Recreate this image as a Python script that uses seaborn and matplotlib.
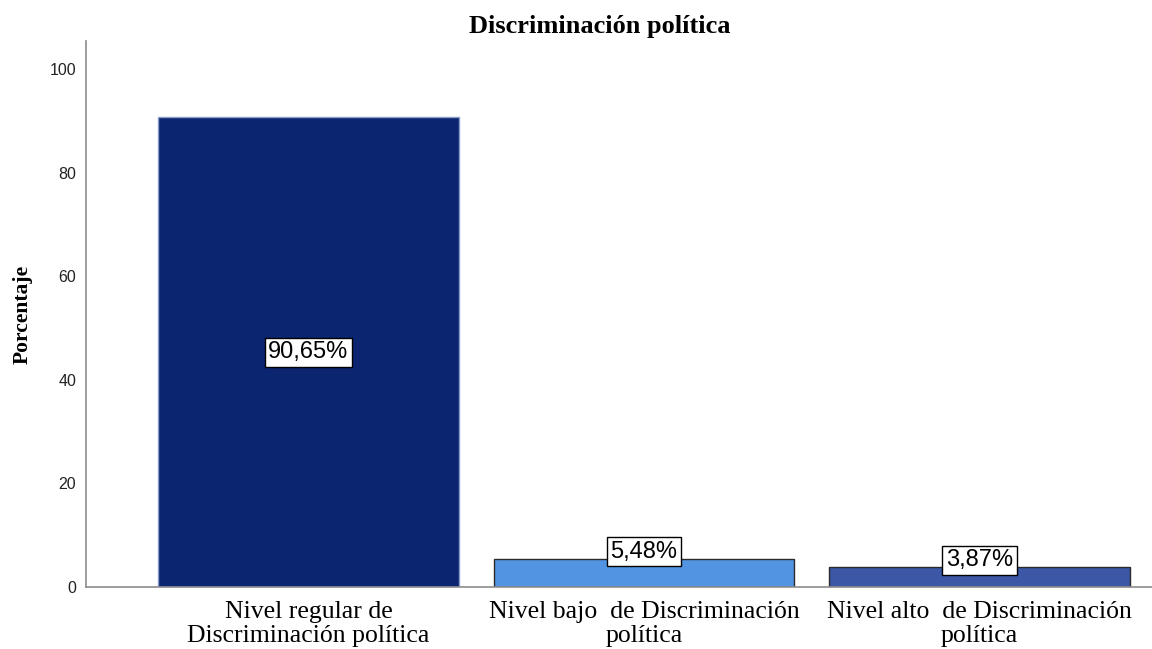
import matplotlib
matplotlib.use("Agg")
import matplotlib.pyplot as plt
import seaborn as sns
import pandas as pd

categories = [
    "Nivel regular de\nDiscriminación política",
    "Nivel bajo  de Discriminación\npolítica",
    "Nivel alto  de Discriminación\npolítica",
]
percentages = [90.65, 5.48, 3.87]
bar_colors = ["#0B2570", "#5294E2", "#3B57A6"]
edge_colors = ["#8A9CC8", "#2B2B2B", "#2B2B2B"]
y_ticks = [0, 20, 40, 60, 80, 100]

df = pd.DataFrame({"categoria": categories, "porcentaje": percentages})

sns.set_style("white")
fig = plt.figure(figsize=(11.52, 6.49), dpi=100)
ax = fig.add_axes([86 / 1152, 62 / 649, 1 - 86 / 1152, (587 - 41) / 649])

sns.barplot(data=df, x="categoria", y="porcentaje", hue="categoria",
            palette=bar_colors, legend=False, width=0.897, ax=ax,
            saturation=1)

for patch, ec in zip(ax.patches, edge_colors):
    patch.set_edgecolor(ec)
    patch.set_linewidth(1.0)

ax.set_xlim(-0.663, 2.514)
ax.set_ylim(0, 105.4)
ax.set_yticks(y_ticks)
ax.set_yticklabels([str(t) for t in y_ticks], fontsize=11.5,
                   family="Liberation Sans", color="#222222")
ax.tick_params(axis="y", length=0, pad=7)
ax.tick_params(axis="x", length=0, pad=10)
ax.set_xticks(range(len(categories)))
ax.set_xticklabels(categories, fontsize=18.5, family="Liberation Serif",
                   linespacing=1.12, color="black")
ax.set_xlabel("")
ax.set_ylabel("Porcentaje", fontsize=15.5, family="Liberation Serif",
              fontweight="bold", labelpad=12, color="black")
ax.set_title("Discriminación política", fontsize=19, family="Liberation Serif",
             fontweight="bold", pad=6, x=0.482, color="black")

sns.despine(ax=ax)
for side in ("left", "bottom"):
    ax.spines[side].set_color("#8C8C8C")
    ax.spines[side].set_linewidth(1.2)

box = dict(boxstyle="square,pad=0.15", facecolor="white", edgecolor="black",
           linewidth=1.0)
for i, v in enumerate(percentages):
    label = f"{v:.2f}".replace(".", ",") + "%"
    if v > 20:
        y = v / 2
    else:
        y = v + 1.3
    ax.text(i, y, label, ha="center", va="center", fontsize=17,
            family="Liberation Sans", color="black", bbox=box)

fig.savefig("out.png", dpi=100)
